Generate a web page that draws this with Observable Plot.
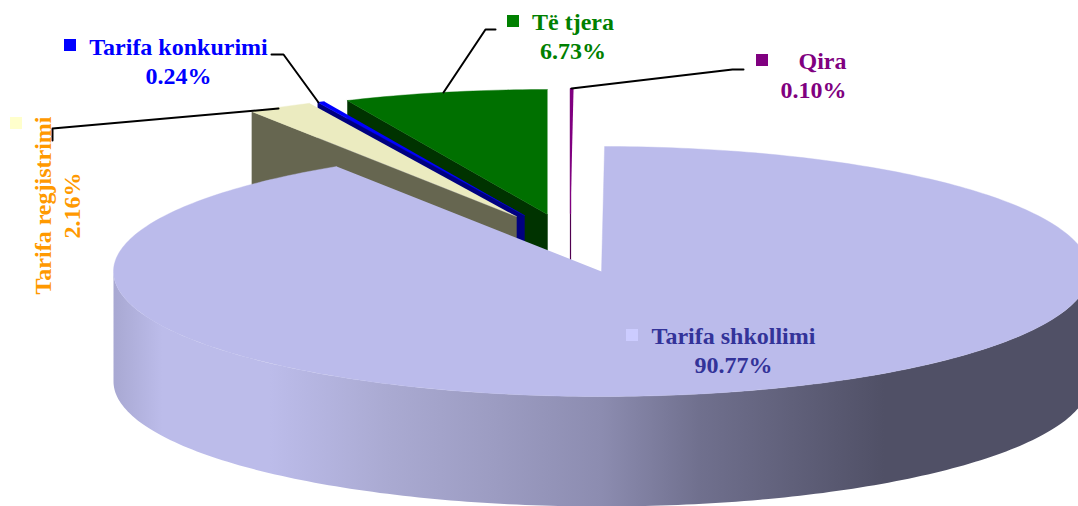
<!DOCTYPE html>
<html>
<head>
<meta charset="utf-8">
<style>html,body{margin:0;padding:0;background:#fff}svg{display:block}</style>
<script src="https://cdn.jsdelivr.net/npm/d3@7"></script>
<script src="https://cdn.jsdelivr.net/npm/@observablehq/plot@0.6"></script>
</head>
<body>
<div id="chart"></div>
<script>
// Data, in pie order (clockwise)
const categories = ["Tarifa shkollimi", "Tarifa regjistrimi", "Tarifa konkurimi", "Të tjera", "Qira"];
const shares = [90.77, 2.16, 0.24, 6.73, 0.10];

// Colours
const topColors = ["#BBBBEB", "#EBEBC0", "#0000FF", "#007000", "#800080"];
const wallColors = ["url(#sideGrad)", "#666650", "#000080", "#003300", "#500050"];
const keyColors = ["#CCCCFF", "#FFFFCC", "#0000FF", "#008000", "#800080"];
const labelColors = ["#333399", "#FF9900", "#0000FF", "#008000", "#800080"];

// Pie layout
const startAngle = 0.36, rx = 488, ry = 125, depth = 110;
const apexX = [601, 516, 524, 547, 570];
const apexY = [271, 216, 215, 214, 213];
const edgeWidth = [0.4, 0.4, 0.4, 0.4, 1.2];

// Label layout
const labelX = [733, 56, 178, 572.5, 846];
const labelY = [349, 205, 60, 35, 74];
const keyX = [632, 16, 70, 513, 762];
const keyY = [335, 123, 45, 21, 60];
const keySize = 6;

// Leader lines
const leaderX = [[271, 283, 318], [52, 52, 278], [443, 485, 495], [571, 732, 743]];
const leaderY = [[54, 54, 102], [140, 128, 108], [92, 29, 29], [88, 69, 69]];

const rad = (a) => (a * Math.PI) / 180;
const rim = (i, a, dz = 0) => ({
  x: apexX[i] + rx * Math.sin(rad(a)),
  y: apexY[i] - ry * Math.cos(rad(a)) + dz
});
const arc = (i, a0, a1, dz = 0) => {
  const n = Math.max(1, Math.ceil(Math.abs(a1 - a0)));
  return d3.range(n + 1).map((k) => rim(i, a0 + ((a1 - a0) * k) / n, dz));
};

let cum = startAngle;
const slices = shares.map((v, i) => {
  const a0 = cum;
  cum += (v / 100) * 360;
  return {i, a0, a1: cum};
});

const shape = (pts, fill, strokeWidth) =>
  Plot.line(pts, {x: "x", y: "y", fill, stroke: fill === "url(#sideGrad)" ? "none" : fill, strokeWidth, curve: "linear"});

const sliceMarks = [...slices].sort((p, q) => (p.i === 0) - (q.i === 0) || q.i - p.i).flatMap(({i, a0, a1}) => {
  const apex = {x: apexX[i], y: apexY[i]};
  const wall = i === 0
    ? [...arc(i, 90, 270), ...arc(i, 270, 90, depth)]
    : [rim(i, a0), apex, {x: apex.x, y: apex.y + depth}, rim(i, a0, depth)];
  return [shape(wall, wallColors[i], edgeWidth[i]), shape([apex, ...arc(i, a0, a1)], topColors[i], edgeWidth[i])];
});

const gradient = () => {
  const stops = [[0, "#A8A8D2"], [0.05, "#BCBCEA"], [0.16, "#BCBCEA"], [0.28, "#AAAAD2"], [0.39, "#9C9CC2"],
                 [0.5, "#8C8CB0"], [0.6, "#70708E"], [0.79, "#505066"], [1, "#505066"]];
  const ns = "http://www.w3.org/2000/svg";
  const g = document.createElementNS(ns, "linearGradient");
  g.setAttribute("id", "sideGrad");
  stops.forEach(([o, c]) => {
    const s = document.createElementNS(ns, "stop");
    s.setAttribute("offset", o);
    s.setAttribute("stop-color", c);
    g.appendChild(s);
  });
  return g;
};

const leaders = leaderX.flatMap((xs, k) => xs.map((x, j) => ({k, x, y: leaderY[k][j]})));
const labelRows = categories.map((name, i) => ({
  i, text: `${name}\n${shares[i].toFixed(2)}%`, x: labelX[i], y: labelY[i], color: labelColors[i]
}));
const font = {fontFamily: "Liberation Serif", fontWeight: "bold", fontSize: 24, lineHeight: 1.19, stroke: "none"};

const chart = Plot.plot({
  width: 1078, height: 506,
  margin: 0,
  x: {domain: [0, 1078], range: [0, 1078], axis: null},
  y: {domain: [0, 506], range: [0, 506], axis: null},
  marks: [
    gradient,
    ...sliceMarks,
    Plot.line(leaders, {x: "x", y: "y", z: "k", stroke: "#000", strokeWidth: 2, curve: "linear"}),
    Plot.rect(categories.map((c, i) => i), {
      x1: (i) => keyX[i] - keySize, x2: (i) => keyX[i] + keySize,
      y1: (i) => keyY[i] - keySize, y2: (i) => keyY[i] + keySize,
      fill: (i) => keyColors[i]
    }),
    Plot.text(labelRows.filter((d) => d.i !== 1 && d.i !== 4), {x: "x", y: "y", text: "text", fill: "color", textAnchor: "middle", lineAnchor: "middle", ...font}),
    Plot.text(labelRows.filter((d) => d.i === 4), {x: "x", y: "y", text: "text", fill: "color", textAnchor: "end", lineAnchor: "middle", ...font}),
    Plot.text(labelRows.filter((d) => d.i === 1), {x: "x", y: "y", text: "text", fill: "color", textAnchor: "middle", lineAnchor: "middle", rotate: -90, ...font})
  ]
});
document.getElementById("chart").appendChild(chart);
</script>
</body>
</html>
